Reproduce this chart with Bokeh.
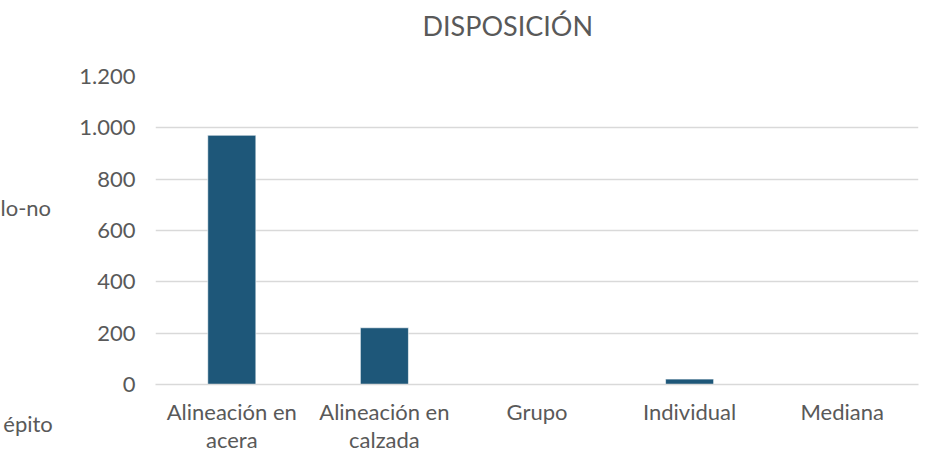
from bokeh.plotting import figure
from bokeh.layouts import row
from bokeh.models import CustomJSTickFormatter, FixedTicker, Range1d, Title
from bokeh.core.properties import value
from bokeh.embed import file_html
from bokeh.resources import INLINE

categories = ["Alineación en\nacera", "Alineación en\ncalzada", "Grupo", "Individual", "Mediana"]
values = [971, 221, 0, 21, 0]
title_text = "DISPOSICIÓN"
y_ticks = [0, 200, 400, 600, 800, 1000, 1200]
stray_texts = ["lo-no", "épito"]

FONT = "Lato"
GREY = "#595959"
W, H = 937, 455
LW = 60                             # width of the left strip holding the clipped texts
FL, FR, FT, FB = 155, 918, 76, 385  # frame edges in page pixels

# left strip with texts clipped from a neighbouring chart
side = figure(width=LW, height=H, output_backend="svg", toolbar_location=None,
              x_range=Range1d(0, LW), y_range=Range1d(FB, FT),
              min_border_left=0, min_border_right=0,
              min_border_top=FT, min_border_bottom=H - FB)
side.yaxis.visible = False
side.grid.visible = False
side.outline_line_color = None
side.text(x=[0], y=[207], text=[stray_texts[0]], text_font=value(FONT),
          text_font_size="22px", text_color=GREY, text_baseline="middle",
          text_align="left")
side.xaxis.ticker = FixedTicker(ticks=[22])
side.xaxis.major_label_overrides = {22: stray_texts[1]}
side.xaxis.axis_line_color = None
side.xaxis.major_tick_line_color = None
side.xaxis.minor_tick_line_color = None
side.xaxis.major_label_standoff = 19
side.xaxis.major_label_text_font = FONT
side.xaxis.major_label_text_font_size = "22px"
side.xaxis.major_label_text_color = GREY

p = figure(x_range=categories, width=W - LW, height=H, output_backend="svg",
           toolbar_location=None, min_border_left=FL - LW, min_border_right=W - FR,
           min_border_top=FT, min_border_bottom=H - FB)
p.y_range = Range1d(0, 1200)
p.vbar(x=categories, top=values, width=0.315, fill_color="#1e5779",
       line_color="#ffffff", line_width=0.6)

# spacer panel (nearest the frame) then the title above it
p.add_layout(Title(text=" ", text_font_size="10px", standoff=22), "above")
p.add_layout(Title(text=title_text, align="left", offset=422 - FL, text_font=FONT,
                   text_font_size="27px", text_color=GREY, text_font_style="normal",
                   standoff=0), "above")

p.outline_line_color = None
p.xgrid.grid_line_color = None
p.ygrid.grid_line_color = "#d9d9d9"
p.ygrid.grid_line_width = 1.3
p.yaxis.ticker = FixedTicker(ticks=y_ticks)
p.yaxis.formatter = CustomJSTickFormatter(code="""
    return Math.round(tick).toString().replace(/\\B(?=(\\d{3})+(?!\\d))/g, '.');
""")
for ax in (p.xaxis, p.yaxis):
    ax.major_label_text_font = FONT
    ax.major_label_text_font_size = "22px"
    ax.major_label_text_color = GREY
    ax.major_tick_line_color = None
    ax.minor_tick_line_color = None
p.yaxis.axis_line_color = None
p.yaxis.major_label_standoff = 14
p.xaxis.axis_line_color = "#d9d9d9"
p.xaxis.axis_line_width = 1.3
p.xaxis.major_label_standoff = 7
p.xaxis.major_label_text_line_height = 1.05

layout = row(side, p, spacing=0)
open("out.html", "w").write(file_html(layout, INLINE))
